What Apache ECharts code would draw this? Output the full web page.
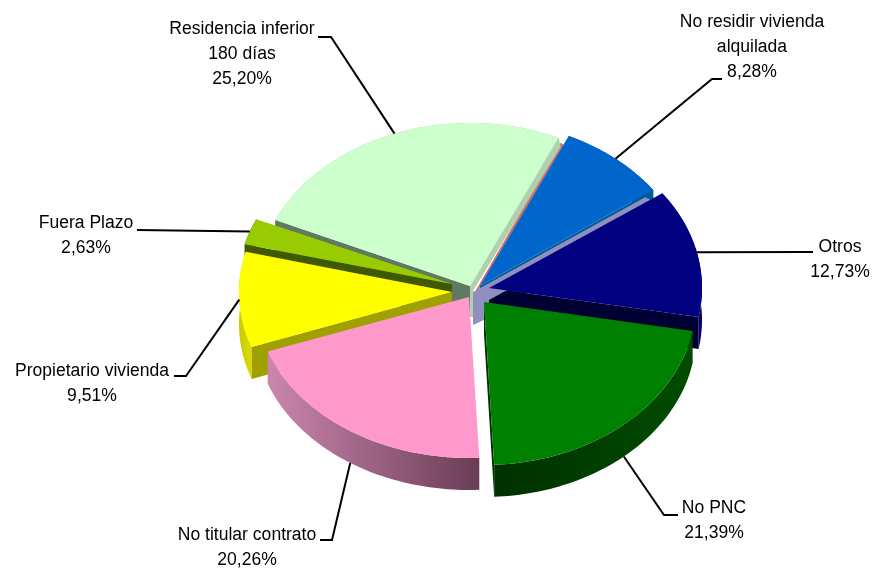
<!DOCTYPE html>
<html><head><meta charset="utf-8">
<style>html,body{margin:0;padding:0;background:#fff}#c{width:875px;height:568px}</style>
<script src="https://cdn.jsdelivr.net/npm/echarts@6/dist/echarts.min.js"></script>
</head><body><div id="c"></div>
<script>
// ---- data ----
const categories = ['No residir vivienda\nalquilada','Otros','No PNC','No titular contrato','Propietario vivienda','Fuera Plazo','Residencia inferior\n180 días'];
const shares = [8.28,12.73,21.39,20.26,9.51,2.63,25.20];
const topColors = ['#0066CC','#000080','#008000','#FF99CC','#FFFF00','#99CC00','#CCFFCC'];

// ---- layout of the tilted, exploded pie (one entry per slice) ----
const START_ANGLE = 24.6, DEPTH = 32;
const apexes = [[480,286],[489,288],[484,302],[469,297],[452,292],[452,284],[470,286]];
const radiiX = [213,213,212,214,213,214,213];
const radiiY = [165,163,163,161,162,160,163];
const paintOrder = [1,2,6,5,4,3,0];           // z rank per slice
const rimFills = [
  ['#005a9e','#005a9e'],['#000050','#000070'],['#003000','#004c00'],
  ['#cc86ae','#6a3d55'],['#c9c900','#dcdc00'],['#405800','#405800'],['#a8cca8','#a8cca8']];
const startWalls = [null,null,null,null,'#A0A000','#405800','#5F7A60'];
const endWalls = ['#005A9E','#000033','#003000',null,null,null,null];
const extraWalls = {
  6:[{fill:'#D07068',pts:[['A',6,4],['E',2,5],['E',5,7],['A',8,5]]},
     {fill:'#AFD0AF',pts:[['A',0,0],['E',0,0],['E',2,9],['A',3,5],['A',3,31],['A',0,31]]}],
  1:[{fill:'#9090C0',pts:[['A',-16,4],['S',-17,4],['S',0,12],['A',0,12],['A',-1,30],['A',-16,37]]}]
};
// label centre (first line) and the elbow/end of its leader line
const labelPos = [[752,21],[840,246],[714,507],[247,534],[92,370],[86,222],[242,28]];
const leaderMid = [[712,79],[805,252],[664,515],[332,540],[186,376],[137,230],[331,37]];
const leaderEnd = [[722,79],[813,252],[678,515],[320,540],[174,376],[137,230],[318,37]];
const frontDrop = [0,0,DEPTH,DEPTH,0,0,0];

const total = shares.reduce((a,b)=>a+b,0);
function range(i){
  let s = START_ANGLE; for(let k=0;k<i;k++) s += shares[k]/total*360;
  return [s, s+shares[i]/total*360];
}
function pt(i,deg){
  const t = deg*Math.PI/180;
  return [apexes[i][0]+radiiX[i]*Math.sin(t), apexes[i][1]-radiiY[i]*Math.cos(t)];
}
function drawSlice(params){
  const i = params.dataIndex, [a0,a1] = range(i), A = apexes[i];
  const arc = []; const n = 60;
  for(let k=0;k<=n;k++) arc.push(pt(i,a0+(a1-a0)*k/n));
  const S = arc[0], E = arc[n], base = paintOrder[i]*10, kids = [];
  const poly = (points,fill,z)=>kids.push({type:'polygon',z2:base+z,shape:{points},style:{fill,stroke:null}});
  const down = p=>[p[0],p[1]+DEPTH];
  poly(arc.concat(arc.slice().reverse().map(down)),
       new echarts.graphic.LinearGradient(0,0,1,0,[{offset:0,color:rimFills[i][0]},{offset:1,color:rimFills[i][1]}]),0);
  if(startWalls[i]) poly([A,S,down(S),down(A)],startWalls[i],1);
  if(endWalls[i]) poly([A,E,down(E),down(A)],endWalls[i],1);
  (extraWalls[i]||[]).forEach((w,k)=>{
    const ref = {A,S,E};
    poly(w.pts.map(q=>[ref[q[0]][0]+q[1],ref[q[0]][1]+q[2]]),w.fill,2+k);
  });
  poly([A].concat(arc),topColors[i],8);
  return {type:'group',children:kids};
}
function drawLabel(params){
  const i = params.dataIndex, [a0,a1] = range(i);
  const p = pt(i,(a0+a1)/2);
  const points = [[p[0],p[1]+frontDrop[i]],leaderMid[i],leaderEnd[i]];
  const txt = categories[i]+'\n'+shares[i].toFixed(2).replace('.',',')+'%';
  return {type:'group',children:[
    {type:'polyline',shape:{points},style:{stroke:'#000',lineWidth:2,fill:null}},
    {type:'text',x:labelPos[i][0],y:labelPos[i][1]-11,scaleX:0.975,
     style:{text:txt,font:'18px "Liberation Sans", Arial, sans-serif',fill:'#000',
            align:'center',verticalAlign:'top',lineHeight:25}}
  ]};
}
const chart = echarts.init(document.getElementById('c'),null,{renderer:'canvas'});
const items = shares.map((v,i)=>({name:categories[i],value:v}));
chart.setOption({
  animation:false,
  backgroundColor:'#fff',
  series:[
    {type:'custom',name:'slices',coordinateSystem:'none',silent:true,z:2,data:items,renderItem:drawSlice},
    {type:'custom',name:'labels',coordinateSystem:'none',silent:true,z:3,data:items,renderItem:drawLabel}
  ]
});
</script></body></html>
